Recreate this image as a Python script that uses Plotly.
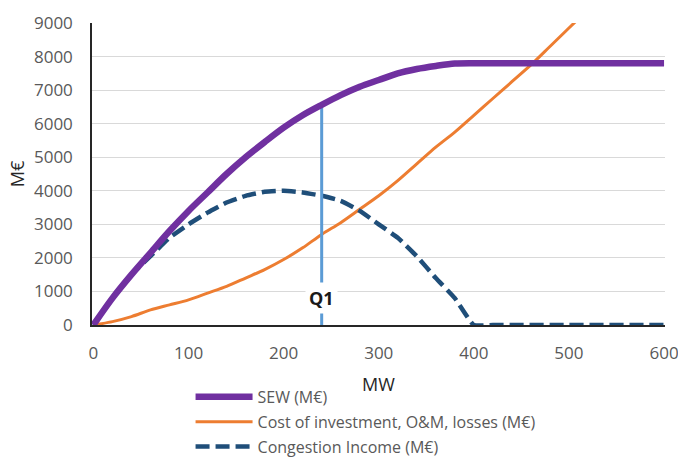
import plotly.graph_objects as go

mw = [0, 20, 40, 60, 80, 100, 120, 140, 160, 180, 200, 220, 240, 260, 280, 300,
      320, 340, 360, 380, 400, 420, 440, 460, 480, 500, 520, 540, 560, 580, 600]
sew = [0, 800, 1500, 2150, 2800, 3400, 3950, 4500, 5000, 5450, 5880, 6250, 6560,
       6850, 7100, 7300, 7500, 7630, 7720, 7790, 7800, 7800, 7800, 7800, 7800,
       7800, 7800, 7800, 7800, 7800, 7800]
cost = [0, 100, 250, 450, 600, 750, 950, 1150, 1400, 1650, 1950, 2300, 2700,
        3050, 3450, 3850, 4300, 4800, 5300, 5750, 6250, 6750, 7250, 7750, 8300,
        8850, 9400, 9950, 10500, 11050, 11600]
congestion = [0, 800, 1500, 2050, 2600, 3000, 3350, 3650, 3850, 3970, 4000, 3950,
              3850, 3700, 3400, 3000, 2600, 2050, 1400, 800, 0, 0, 0, 0, 0, 0, 0,
              0, 0, 0, 0]
q1_mw = 240
q1_top = 6560
q1_label = "Q1"

font = "Open Sans, Liberation Sans, sans-serif"

fig = go.Figure()
fig.add_trace(go.Scatter(x=mw, y=cost, mode="lines", name="Cost of investment, O&M, losses (M€)",
                         line=dict(color="#ED7D31", width=3, shape="spline", smoothing=0.8),
                         legendrank=2, legendgroup="b"))
fig.add_trace(go.Scatter(x=mw, y=congestion, mode="lines", name="Congestion Income (M€)",
                         line=dict(color="#1F4E79", width=4.5, dash="14px,6px",
                                   shape="spline", smoothing=0.4),
                         legendrank=3, legendgroup="c"))
fig.add_trace(go.Scatter(x=[q1_mw, q1_mw], y=[0, q1_top], mode="lines", showlegend=False,
                         line=dict(color="#5B9BD5", width=3), hoverinfo="skip"))
fig.add_trace(go.Scatter(x=mw, y=sew, mode="lines", name="SEW (M€)",
                         line=dict(color="#7030A0", width=6.5, shape="spline", smoothing=0.9),
                         legendrank=1, legendgroup="a"))

fig.add_annotation(x=q1_mw, y=800, text="<b>" + q1_label + "</b>", showarrow=False,
                   font=dict(family=font, size=18, color="#1a1a1a"), bgcolor="white",
                   borderpad=3)

fig.update_layout(
    width=678, height=459,
    margin=dict(l=92, r=13, t=23, b=134, autoexpand=False),
    paper_bgcolor="white", plot_bgcolor="white",
    font=dict(family=font, size=17, color="#595959"),
    showlegend=True,
    legend=dict(x=0.172, y=-0.182, xanchor="left", yanchor="top", orientation="v",
                font=dict(family=font, size=16, color="#595959"),
                itemwidth=57, tracegroupgap=1, bgcolor="rgba(0,0,0,0)"),
    xaxis=dict(range=[-1.5, 601], tickvals=[0, 100, 200, 300, 400, 500, 600],
               showgrid=False, zeroline=False, showline=True, linecolor="#262626",
               linewidth=1.5, ticks="", ticklabelstandoff=12, automargin=False,
               ticklabeloverflow="allow",
               title=dict(text="MW", font=dict(family=font, size=18, color="#262626"),
                          standoff=15),
               tickfont=dict(color="#595959", size=17)),
    yaxis=dict(range=[0, 9000], tickvals=list(range(0, 9001, 1000)),
               showgrid=True, gridcolor="#D9D9D9", gridwidth=1, zeroline=False,
               showline=True, linecolor="#262626", linewidth=1.5, ticks="",
               ticklabelstandoff=14, automargin=False,
               title=dict(text="M€", font=dict(family=font, size=18, color="#262626"),
                          standoff=5),
               tickfont=dict(color="#595959", size=17)),
)

fig.write_html("out.html", config={"displayModeBar": False})
with open("out.html", encoding="utf-8") as f:
    html = f.read()
html = html.replace("<body>", '<body style="margin:0;padding:0;">', 1)
with open("out.html", "w", encoding="utf-8") as f:
    f.write(html)
